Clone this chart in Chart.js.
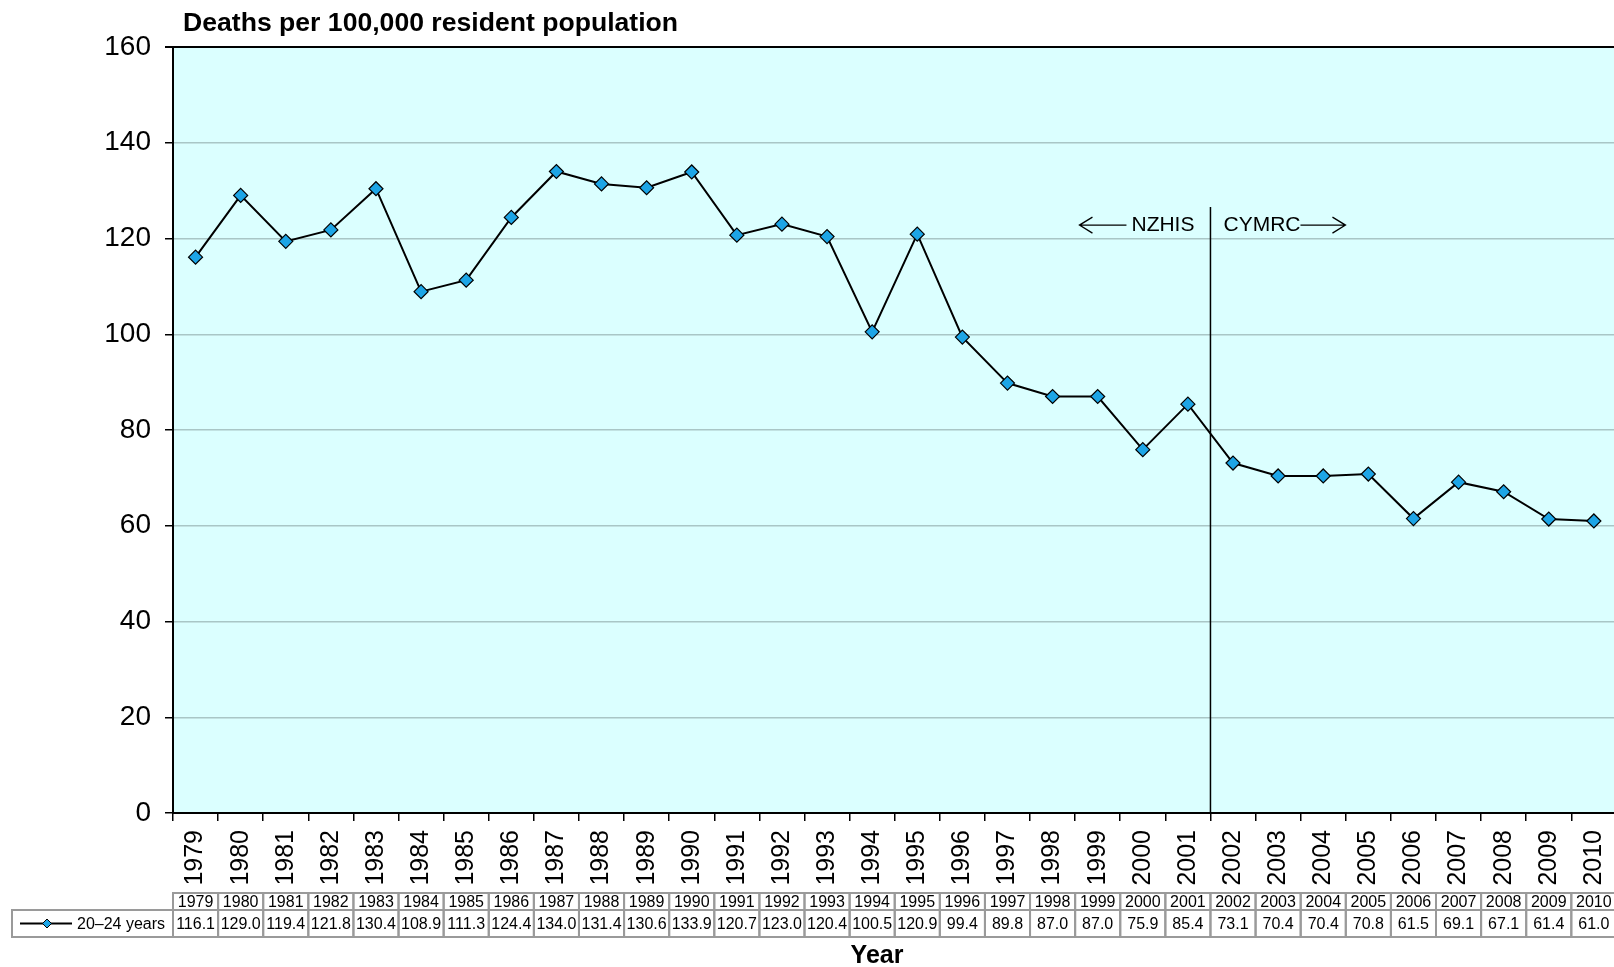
<!DOCTYPE html>
<html>
<head>
<meta charset="utf-8">
<script src="https://cdn.jsdelivr.net/npm/chart.js"></script>
<style>
  html, body { margin: 0; background: #fff; overflow: hidden; }
  canvas { display: block; }
</style>
</head>
<body>
<canvas id="MyChart" width="1633" height="967"></canvas>
<script>
const years = ['1979','1980','1981','1982','1983','1984','1985','1986','1987','1988','1989','1990','1991','1992','1993','1994','1995','1996','1997','1998','1999','2000','2001','2002','2003','2004','2005','2006','2007','2008','2009','2010'];
const deaths2024 = [116.1,129.0,119.4,121.8,130.4,108.9,111.3,124.4,134.0,131.4,130.6,133.9,120.7,123.0,120.4,100.5,120.9,99.4,89.8,87.0,87.0,75.9,85.4,73.1,70.4,70.4,70.8,61.5,69.1,67.1,61.4,61.0];
const seriesName = '20\u201324 years';
const yTicks = [0, 20, 40, 60, 80, 100, 120, 140, 160];

const FONT = '"Liberation Sans", Arial, sans-serif';
const markerColor = '#1da5e6';

// background, borders, table and notes drawn round the chart
const extras = {
    id: 'extras',
    beforeDraw(chart) {
        const {ctx, chartArea: a} = chart;
        ctx.save();
        ctx.fillStyle = '#dbffff';
        ctx.fillRect(a.left, a.top, a.right - a.left, a.bottom - a.top);
        ctx.restore();
    },
    afterDraw(chart) {
        const {ctx, chartArea: a} = chart;
        const x = chart.scales.x;
        const y = chart.scales.y;
        ctx.save();

        // top border
        ctx.strokeStyle = '#000';
        ctx.lineWidth = 2;
        ctx.beginPath();
        ctx.moveTo(a.left - 8, a.top);
        ctx.lineTo(a.right, a.top);
        ctx.stroke();

        // title
        ctx.fillStyle = '#000';
        ctx.font = 'bold 26.6px ' + FONT;
        ctx.textAlign = 'left';
        ctx.textBaseline = 'middle';
        ctx.fillText('Deaths per 100,000 resident population', 183, 24);

        // source change line
        const xs = (x.getPixelForValue(22) + x.getPixelForValue(23)) / 2;
        ctx.lineWidth = 1.5;
        ctx.beginPath();
        ctx.moveTo(xs, y.getPixelForValue(126.6));
        ctx.lineTo(xs, a.bottom);
        ctx.stroke();

        const ty = y.getPixelForValue(122.8);
        ctx.font = '21px ' + FONT;
        ctx.textAlign = 'right';
        ctx.fillText('NZHIS', xs - 16, ty);
        ctx.textAlign = 'left';
        ctx.fillText('CYMRC', xs + 13, ty);
        ctx.lineWidth = 1.3;
        // left arrow
        ctx.beginPath();
        ctx.moveTo(xs - 84, ty); ctx.lineTo(xs - 131, ty);
        ctx.moveTo(xs - 118, ty - 8); ctx.lineTo(xs - 131, ty); ctx.lineTo(xs - 118, ty + 8);
        // right arrow
        ctx.moveTo(xs + 90, ty); ctx.lineTo(xs + 135, ty);
        ctx.moveTo(xs + 122, ty - 8); ctx.lineTo(xs + 135, ty); ctx.lineTo(xs + 122, ty + 8);
        ctx.stroke();

        // data table
        const w = x.getPixelForValue(1) - x.getPixelForValue(0);
        const r1 = 893, r2 = 910, r3 = 937;
        ctx.strokeStyle = '#9a9a9a';
        ctx.lineWidth = 2;
        ctx.font = '16px ' + FONT;
        ctx.textAlign = 'center';
        years.forEach((yr, i) => {
            const cx = x.getPixelForValue(i);
            ctx.strokeRect(cx - w / 2, r1, w, r2 - r1);
            ctx.strokeRect(cx - w / 2, r2, w, r3 - r2);
            ctx.fillText(yr, cx, (r1 + r2) / 2 + 1);
            ctx.fillText(deaths2024[i].toFixed(1), cx, (r2 + r3) / 2 + 1);
        });
        ctx.strokeRect(12, r2, a.left - 12, r3 - r2);

        // legend key
        const ly = (r2 + r3) / 2;
        ctx.strokeStyle = '#000';
        ctx.lineWidth = 2;
        ctx.beginPath();
        ctx.moveTo(20, ly); ctx.lineTo(72, ly);
        ctx.stroke();
        ctx.fillStyle = markerColor;
        ctx.lineWidth = 1;
        ctx.beginPath();
        ctx.moveTo(47, ly - 4.5); ctx.lineTo(51.5, ly); ctx.lineTo(47, ly + 4.5); ctx.lineTo(42.5, ly);
        ctx.closePath();
        ctx.fill(); ctx.stroke();
        ctx.fillStyle = '#000';
        ctx.textAlign = 'left';
        ctx.fillText(seriesName, 77, ly + 1);

        // x axis title
        ctx.font = 'bold 25px ' + FONT;
        ctx.textAlign = 'center';
        ctx.fillText('Year', 877, 956);

        ctx.restore();
    }
};

const ctx = document.getElementById('MyChart').getContext('2d');
let myChart = new Chart(ctx, {
    type: 'line',
    data: {
        labels: years,
        datasets: [{
            label: seriesName,
            data: deaths2024,
            borderColor: '#000',
            borderWidth: 2,
            backgroundColor: markerColor,
            pointStyle: 'rectRot',
            pointRadius: 7,
            pointBorderColor: '#000',
            pointBorderWidth: 1.2,
            pointBackgroundColor: markerColor,
            tension: 0
        }]
    },
    options: {
        responsive: false,
        animation: false,
        layout: { padding: { top: 47, right: 0, left: 0, bottom: 0 } },
        plugins: {
            legend: { display: false },
            tooltip: { enabled: false }
        },
        scales: {
            x: {
                offset: true,
                afterFit: (s) => { s.height = 154; },
                border: { color: '#000', width: 2 },
                grid: {
                    offset: true,
                    drawOnChartArea: false,
                    drawTicks: true,
                    tickLength: 8,
                    tickColor: '#000',
                    lineWidth: 1.5
                },
                ticks: {
                    autoSkip: false,
                    minRotation: 90,
                    maxRotation: 90,
                    padding: 9,
                    color: '#000',
                    font: { family: FONT, size: 25 }
                }
            },
            y: {
                min: 0,
                max: 160,
                afterFit: (s) => { s.width = 173; },
                afterBuildTicks: (s) => { s.ticks = yTicks.map(v => ({ value: v })); },
                border: { color: '#000', width: 2 },
                grid: {
                    color: '#a9c6c6',
                    lineWidth: 1.5,
                    tickLength: 8,
                    tickColor: '#000'
                },
                ticks: {
                    padding: 14,
                    color: '#000',
                    font: { family: FONT, size: 28 }
                }
            }
        }
    },
    plugins: [extras]
});
</script>
</body>
</html>
